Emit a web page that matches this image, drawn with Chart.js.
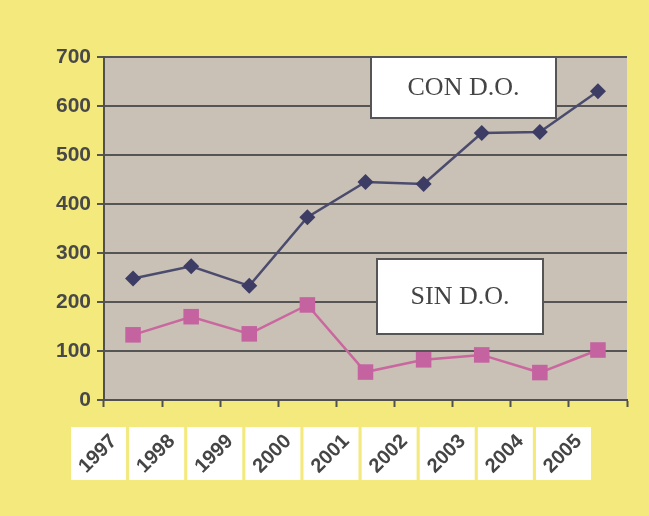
<!DOCTYPE html>
<html>
<head>
<meta charset="utf-8">
<script src="https://cdn.jsdelivr.net/npm/chart.js@4"></script>
<style>
  html, body { margin: 0; padding: 0; background: #f4e97c; }
  #wrap { width: 649px; height: 516px; }
</style>
</head>
<body>
<div id="wrap"><canvas id="chart"></canvas></div>
<script>
// years along the bottom
const years = ["1997", "1998", "1999", "2000", "2001", "2002", "2003", "2004", "2005"];
// with D.O. (upper line)
const conDO = [248, 273, 233, 373, 445, 441, 545, 547, 630];
// without D.O. (lower line)
const sinDO = [133, 170, 135, 194, 57, 82, 92, 56, 102];

// grey plot area behind the lines
const plotBackground = {
    id: "plotBackground",
    beforeDraw(chart) {
        const { ctx, chartArea: a } = chart;
        ctx.save();
        ctx.fillStyle = "#f4e97c";
        ctx.fillRect(0, 0, chart.width, chart.height);
        ctx.fillStyle = "#c9c1b6";
        ctx.fillRect(a.left, a.top, a.right - a.left, a.bottom - a.top);
        ctx.restore();
    }
};

// boxed year labels and the two text boxes
const boxes = {
    id: "boxes",
    afterDraw(chart) {
        const { ctx, chartArea: a } = chart;
        const x = chart.scales.x;
        ctx.save();

        // year labels, each in a white box, shifted half a column left
        years.forEach((yr, i) => {
            const cx = x.getPixelForValue(i) - 35;
            const cy = a.bottom + 53;
            ctx.fillStyle = "#ffffff";
            ctx.fillRect(cx - 27, cy - 26, 55, 53);
            ctx.translate(cx, cy + 1);
            ctx.rotate(-Math.PI / 4);
            ctx.fillStyle = "#454545";
            ctx.font = "bold 20px 'Liberation Sans', Arial, sans-serif";
            ctx.textAlign = "center";
            ctx.textBaseline = "middle";
            ctx.fillText(yr, 0, 0);
            ctx.setTransform(1, 0, 0, 1, 0, 0);
        });

        // series labels
        const label = (text, l, t, w, h) => {
            ctx.fillStyle = "#ffffff";
            ctx.fillRect(l, t, w, h);
            ctx.strokeStyle = "#555555";
            ctx.lineWidth = 2;
            ctx.strokeRect(l, t, w, h);
            ctx.fillStyle = "#444444";
            ctx.font = "26px 'Liberation Serif', 'Times New Roman', serif";
            ctx.textAlign = "center";
            ctx.textBaseline = "middle";
            ctx.fillText(text, l + w / 2, t + h / 2 + 1);
        };
        label("CON D.O.", a.left + 267, a.top, 185, 61);
        label("SIN D.O.", a.left + 273, a.top + 202, 166, 75);

        ctx.restore();
    }
};

new Chart(document.getElementById("chart"), {
    type: "line",
    data: {
        labels: years,
        datasets: [
            {
                label: "CON D.O.",
                data: conDO,
                borderColor: "#4b4b6e",
                backgroundColor: "#3c3c64",
                borderWidth: 2.5,
                pointStyle: "rectRot",
                pointRadius: 8,
                pointBorderWidth: 0,
                tension: 0
            },
            {
                label: "SIN D.O.",
                data: sinDO,
                borderColor: "#c9679e",
                backgroundColor: "#c463a0",
                borderWidth: 2.5,
                pointStyle: "rect",
                pointRadius: 11,
                pointBorderWidth: 0,
                tension: 0
            }
        ]
    },
    options: {
        responsive: true,
        maintainAspectRatio: false,
        animation: false,
        layout: { padding: { left: 0, right: 22, top: 57, bottom: 0 } },
        plugins: {
            legend: { display: false },
            tooltip: { enabled: false }
        },
        scales: {
            x: {
                offset: true,
                grid: {
                    offset: true,
                    drawOnChartArea: false,
                    drawTicks: true,
                    tickLength: 7,
                    tickWidth: 2,
                    tickColor: "#505050"
                },
                border: { color: "#505050", width: 2 },
                ticks: { display: false },
                afterFit(scale) { scale.height = 116; }
            },
            y: {
                min: 0,
                max: 700,
                ticks: {
                    stepSize: 100,
                    color: "#484848",
                    padding: 6,
                    font: { family: "'Liberation Sans', Arial, sans-serif", size: 21, weight: "bold" }
                },
                grid: {
                    color: "#555555",
                    lineWidth: 2,
                    tickLength: 7
                },
                border: { color: "#505050", width: 2 },
                afterFit(scale) { scale.width = 104; }
            }
        }
    },
    plugins: [plotBackground, boxes]
});
</script>
</body>
</html>
